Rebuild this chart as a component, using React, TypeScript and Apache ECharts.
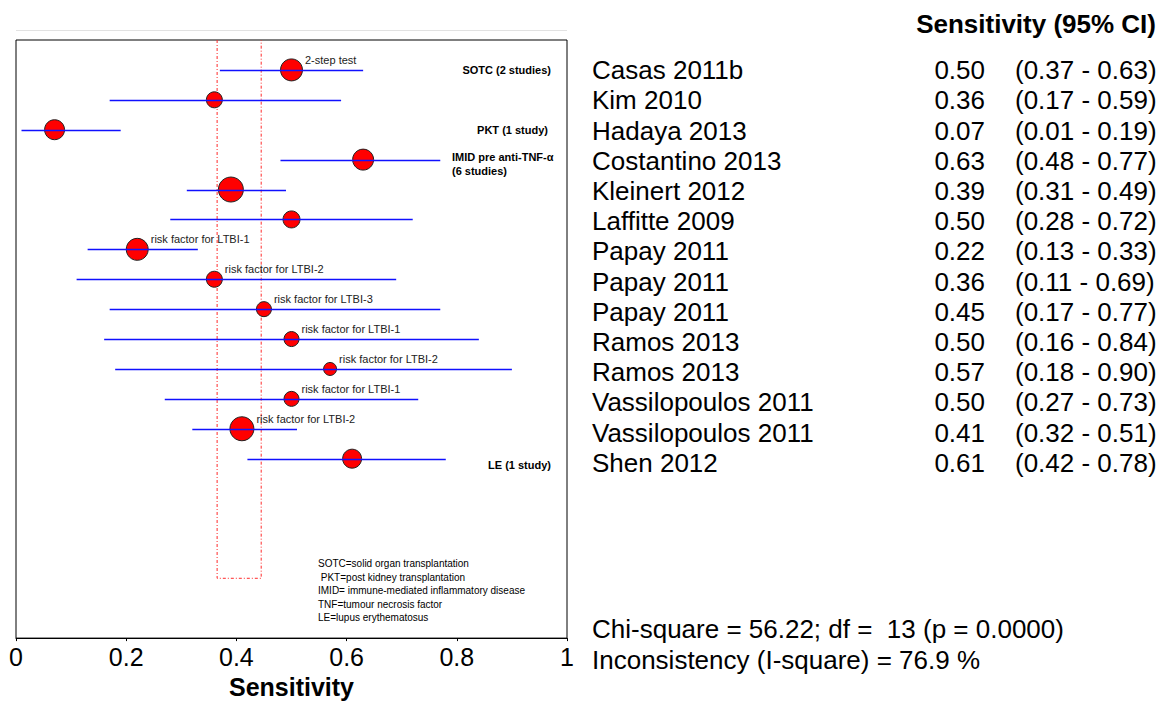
import React, { useEffect, useRef } from "react";
import * as echarts from "echarts";

const studies = [
  "Casas 2011b", "Kim 2010", "Hadaya 2013", "Costantino 2013", "Kleinert 2012",
  "Laffitte 2009", "Papay 2011", "Papay 2011", "Papay 2011", "Ramos 2013",
  "Ramos 2013", "Vassilopoulos 2011", "Vassilopoulos 2011", "Shen 2012",
];
const sensitivity = [0.50, 0.36, 0.07, 0.63, 0.39, 0.50, 0.22, 0.36, 0.45, 0.50, 0.57, 0.50, 0.41, 0.61];
const ciLow = [0.37, 0.17, 0.01, 0.48, 0.31, 0.28, 0.13, 0.11, 0.17, 0.16, 0.18, 0.27, 0.32, 0.42];
const ciHigh = [0.63, 0.59, 0.19, 0.77, 0.49, 0.72, 0.33, 0.69, 0.77, 0.84, 0.90, 0.73, 0.51, 0.78];
const studyWeight = [22, 16, 20, 21, 25, 17, 22, 16, 15, 15, 13, 15, 24, 19];
const pointNotes = [
  "2-step test", "", "", "", "", "", "risk factor for LTBI-1", "risk factor for LTBI-2",
  "risk factor for LTBI-3", "risk factor for LTBI-1", "risk factor for LTBI-2",
  "risk factor for LTBI-1", "risk factor for LTBI-2", "",
];
const pooledLow = 0.365;
const pooledHigh = 0.445;
const xTicks = [0, 0.2, 0.4, 0.6, 0.8, 1];
const heterogeneity = [
  "Chi-square = 56.22; df =  13 (p = 0.0000)",
  "Inconsistency (I-square) = 76.9 %",
];
const abbreviations = [
  "SOTC=solid organ transplantation",
  " PKT=post kidney transplantation",
  "IMID= immune-mediated inflammatory disease",
  "TNF=tumour necrosis factor",
  "LE=lupus erythematosus",
];

const FONT = 'Arial, "Liberation Sans", sans-serif';

export default function App() {
  const ref = useRef<HTMLDivElement>(null);
  useEffect(() => {
    if (!ref.current) return;
    const chart = echarts.init(ref.current, null, { renderer: "svg" });
    const fmt = (v: number) => v.toFixed(2);

    const tableRender = (params: any, api: any) => {
      const i = api.value(0);
      const pName = api.coord([12, i]);
      const pVal = api.coord([405, i]);
      const pCi = api.coord([435, i]);
      const base = { fill: "#000", font: `26px ${FONT}`, verticalAlign: "middle" };
      return {
        type: "group",
        children: [
          { type: "text", x: pName[0], y: pName[1], style: { ...base, text: studies[i], align: "left" } },
          { type: "text", x: pVal[0], y: pVal[1], style: { ...base, text: fmt(sensitivity[i]), align: "right" } },
          { type: "text", x: pCi[0], y: pCi[1], style: { ...base, text: `(${fmt(ciLow[i])} - ${fmt(ciHigh[i])})`, align: "left" } },
        ],
      };
    };

    chart.setOption({
      animation: false,
      grid: [
        { left: 16, top: 40, width: 551, height: 604, show: true, borderColor: "#000", borderWidth: 1, backgroundColor: "#fff" },
        { left: 580, top: 40, width: 586, height: 604, show: false },
      ],
      xAxis: [
        {
          gridIndex: 0, type: "value", min: 0, max: 1, interval: 0.2,
          axisLine: { show: true, onZero: false, lineStyle: { color: "#000", width: 1 } },
          axisTick: { show: true, length: 3, lineStyle: { color: "#000" } },
          splitLine: { show: false },
          axisLabel: {
            fontSize: 25, color: "#000", fontFamily: FONT, margin: 6,
            formatter: (v: number) => (xTicks.includes(Math.round(v * 10) / 10) ? String(Math.round(v * 10) / 10) : ""),
          },
          name: "Sensitivity", nameLocation: "middle", nameGap: 35,
          nameTextStyle: { fontSize: 25, fontWeight: "bold", color: "#000", fontFamily: FONT },
        },
        { gridIndex: 1, type: "value", min: 0, max: 586, show: false },
      ],
      yAxis: [
        { gridIndex: 0, type: "value", min: -1, max: 19, inverse: true, show: false },
        { gridIndex: 1, type: "value", min: -1, max: 19, inverse: true, show: false },
      ],
      series: [
        {
          type: "line", xAxisIndex: 0, yAxisIndex: 0, z: 1, symbol: "none",
          data: [[pooledLow, -1], [pooledLow, 17], [pooledHigh, 17], [pooledHigh, -1]],
          lineStyle: { color: "#ff2a2a", width: 1, type: [3, 2, 1, 2] },
        },
        {
          type: "scatter", xAxisIndex: 0, yAxisIndex: 0, z: 2,
          data: sensitivity.map((v, i) => [v, i]),
          symbol: "circle",
          symbolSize: (_v: any, p: any) => studyWeight[p.dataIndex],
          itemStyle: { color: "#ff0000", borderColor: "#222", borderWidth: 1, opacity: 1 },
          label: {
            show: true, position: "right", distance: 2, offset: [0, -10],
            formatter: (p: any) => pointNotes[p.dataIndex],
            fontSize: 11, color: "#222", fontFamily: FONT,
          },
        },
        {
          type: "custom", xAxisIndex: 0, yAxisIndex: 0, z: 3,
          data: ciLow.map((lo, i) => [lo, ciHigh[i], i]),
          encode: { x: [0, 1], y: 2 },
          renderItem: (params: any, api: any) => {
            const a = api.coord([api.value(0), api.value(2)]);
            const b = api.coord([api.value(1), api.value(2)]);
            return {
              type: "line",
              shape: { x1: a[0], y1: Math.round(a[1]) + 0.5, x2: b[0], y2: Math.round(b[1]) + 0.5 },
              style: { stroke: "#1010ff", lineWidth: 1.3 },
            };
          },
        },
        {
          type: "custom", xAxisIndex: 1, yAxisIndex: 1,
          data: studies.map((_s, i) => [i]),
          encode: { y: 0 },
          renderItem: tableRender,
        },
      ],
      graphic: [
        { type: "line", shape: { x1: 16, y1: 30.5, x2: 567, y2: 30.5 }, style: { stroke: "#e2e2e2", lineWidth: 1 } },
        { type: "text", x: 1156, y: 24, style: { text: "Sensitivity (95% CI)", font: `bold 26px ${FONT}`, fill: "#000", align: "right", verticalAlign: "middle" } },
        { type: "text", x: 551, y: 70, z: 10, style: { text: "SOTC (2 studies)", font: `bold 11px ${FONT}`, fill: "#000", align: "right", verticalAlign: "middle" } },
        { type: "text", x: 548, y: 130, z: 10, style: { text: "PKT (1 study)", font: `bold 11px ${FONT}`, fill: "#000", align: "right", verticalAlign: "middle" } },
        { type: "text", x: 452, y: 164, z: 10, style: { text: "IMID pre anti-TNF-\u03b1\n(6 studies)", font: `bold 11px ${FONT}`, fill: "#000", align: "left", verticalAlign: "middle", lineHeight: 14 } },
        { type: "text", x: 551, y: 465, z: 10, style: { text: "LE (1 study)", font: `bold 11px ${FONT}`, fill: "#000", align: "right", verticalAlign: "middle" } },
        { type: "text", x: 318, y: 557, z: 10, style: { text: abbreviations.join("\n"), font: `10px ${FONT}`, fill: "#000", align: "left", verticalAlign: "top", lineHeight: 13.5 } },
        { type: "text", x: 592, y: 629, style: { text: heterogeneity[0], font: `26px ${FONT}`, fill: "#000", align: "left", verticalAlign: "middle" } },
        { type: "text", x: 592, y: 660, style: { text: heterogeneity[1], font: `26px ${FONT}`, fill: "#000", align: "left", verticalAlign: "middle" } },
      ],
    });
    return () => chart.dispose();
  }, []);
  return (
    <div
      ref={ref}
      style={{ position: "absolute", left: 0, top: 0, width: 1166, height: 704, background: "#fff" }}
    />
  );
}
